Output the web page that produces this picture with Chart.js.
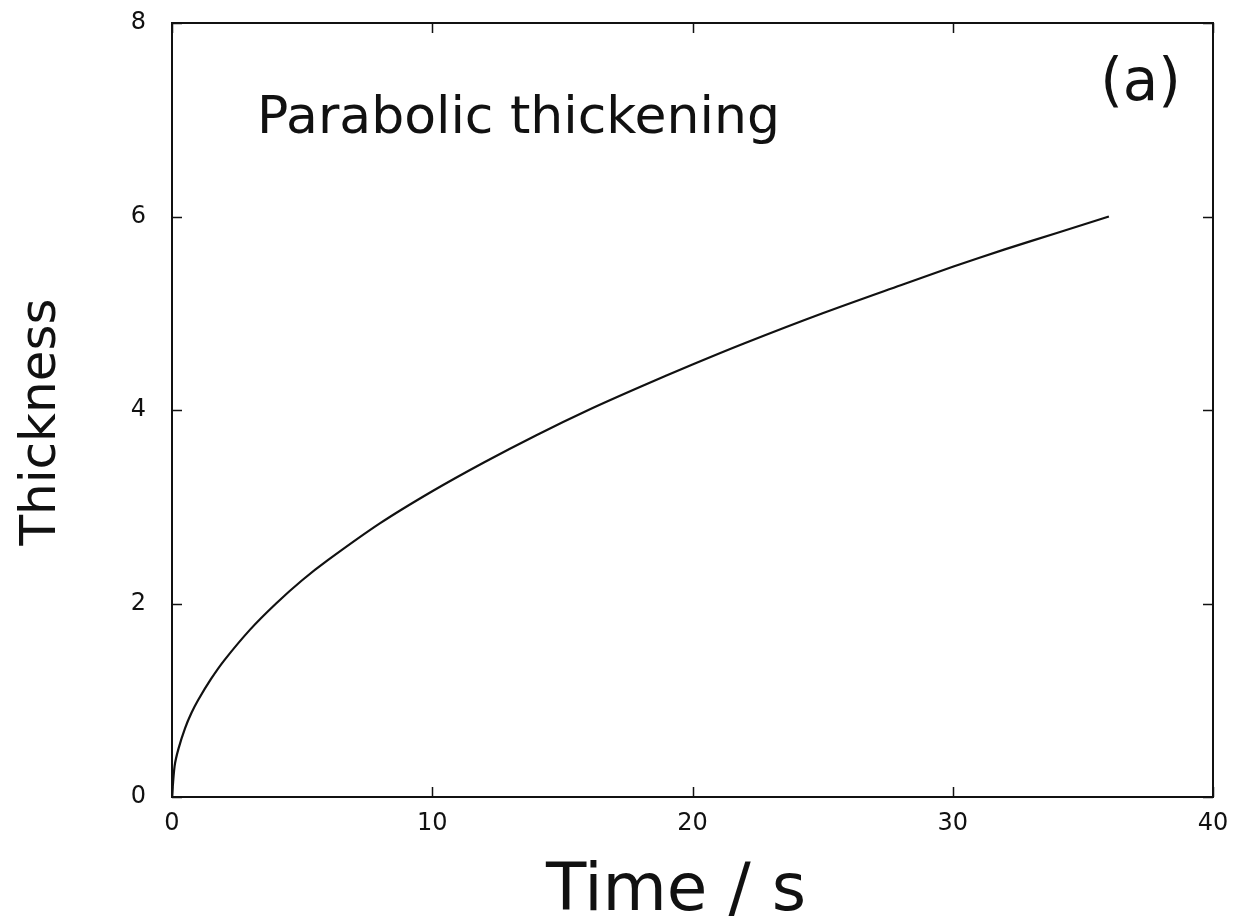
<!DOCTYPE html>
<html>
<head>
<meta charset="utf-8">
<script src="https://cdn.jsdelivr.net/npm/chart.js@4.4.1/dist/chart.umd.min.js"></script>
<style>
  html, body { margin: 0; padding: 0; background: #fff; }
  #wrap { width: 1234px; height: 920px; }
</style>
</head>
<body>
<div id="wrap"><canvas id="chart" width="1234" height="920"></canvas></div>
<script>
// 数据：从图中读取
const timeS = [0, 0.1, 0.25, 0.5, 0.75, 1, 1.5, 2, 3, 4, 5, 6, 8, 10, 12, 14, 16, 18, 20, 22, 25, 28, 30, 32, 34, 36];
const thickness = [0, 0.32, 0.5, 0.71, 0.87, 1, 1.22, 1.41, 1.73, 2, 2.24, 2.45, 2.83, 3.16, 3.46, 3.74, 4, 4.24, 4.47, 4.69, 5, 5.29, 5.48, 5.66, 5.83, 6];
const xTicks = [0, 10, 20, 30, 40];
const yTicks = [0, 2, 4, 6, 8];

const points = timeS.map((t, i) => ({ x: t, y: thickness[i] }));
const FONT = '"DejaVu Sans", sans-serif';

// 边框、内向刻度、轴标题和文字
const framePlugin = {
  id: 'frame',
  afterDraw(chart) {
    const { ctx, chartArea: a, scales: { x, y } } = chart;
    ctx.save();
    ctx.strokeStyle = '#111';
    ctx.lineWidth = 2;
    ctx.strokeRect(a.left, a.top, a.right - a.left, a.bottom - a.top);
    const len = 10;
    ctx.lineWidth = 1.5;
    ctx.beginPath();
    xTicks.forEach(v => {
      const px = Math.round(x.getPixelForValue(v)) + 0.5;
      ctx.moveTo(px, a.bottom); ctx.lineTo(px, a.bottom - len);
      ctx.moveTo(px, a.top); ctx.lineTo(px, a.top + len);
    });
    yTicks.forEach(v => {
      const py = Math.round(y.getPixelForValue(v)) + 0.5;
      ctx.moveTo(a.left, py); ctx.lineTo(a.left + len, py);
      ctx.moveTo(a.right, py); ctx.lineTo(a.right - len, py);
    });
    ctx.stroke();

    ctx.fillStyle = '#111';
    ctx.textBaseline = 'alphabetic';
    ctx.textAlign = 'left';
    ctx.font = '52px ' + FONT;
    ctx.fillText('Parabolic thickening', 257, 133);
    ctx.font = '58px ' + FONT;
    ctx.textAlign = 'right';
    ctx.fillText('(a)', 1181, 100);

    // 轴标题
    ctx.textAlign = 'center';
    ctx.font = '66px ' + FONT;
    ctx.fillText('Time / s', 676, 910);
    ctx.translate(55, 422);
    ctx.rotate(-Math.PI / 2);
    ctx.font = '50px ' + FONT;
    ctx.fillText('Thickness', 0, 0);
    ctx.restore();
  }
};

new Chart(document.getElementById('chart'), {
  type: 'scatter',
  data: {
    datasets: [{
      data: points,
      showLine: true,
      borderColor: '#111',
      borderWidth: 2.2,
      pointRadius: 0,
      tension: 0.3,
      fill: false
    }]
  },
  options: {
    responsive: false,
    animation: false,
    layout: { padding: { left: 0, top: 23, right: 21, bottom: 0 } },
    plugins: { legend: { display: false }, tooltip: { enabled: false } },
    scales: {
      x: {
        type: 'linear',
        min: 0, max: 40,
        afterFit(scale) {
          scale.height = 123;
          scale.paddingLeft = 0; scale.paddingRight = 0;
        },
        afterBuildTicks(scale) { scale.ticks = xTicks.map(v => ({ value: v })); },
        grid: { display: false },
        border: { display: false },
        ticks: { color: '#111', font: { family: FONT, size: 24 }, padding: 4, maxRotation: 0 }
      },
      y: {
        type: 'linear',
        min: 0, max: 8,
        afterFit(scale) {
          scale.width = 172;
          scale.paddingTop = 0; scale.paddingBottom = 0;
        },
        afterBuildTicks(scale) { scale.ticks = yTicks.map(v => ({ value: v })); },
        grid: { display: false },
        border: { display: false },
        ticks: { color: '#111', font: { family: FONT, size: 24 }, padding: 18 }
      }
    }
  },
  plugins: [framePlugin]
});
</script>
</body>
</html>
